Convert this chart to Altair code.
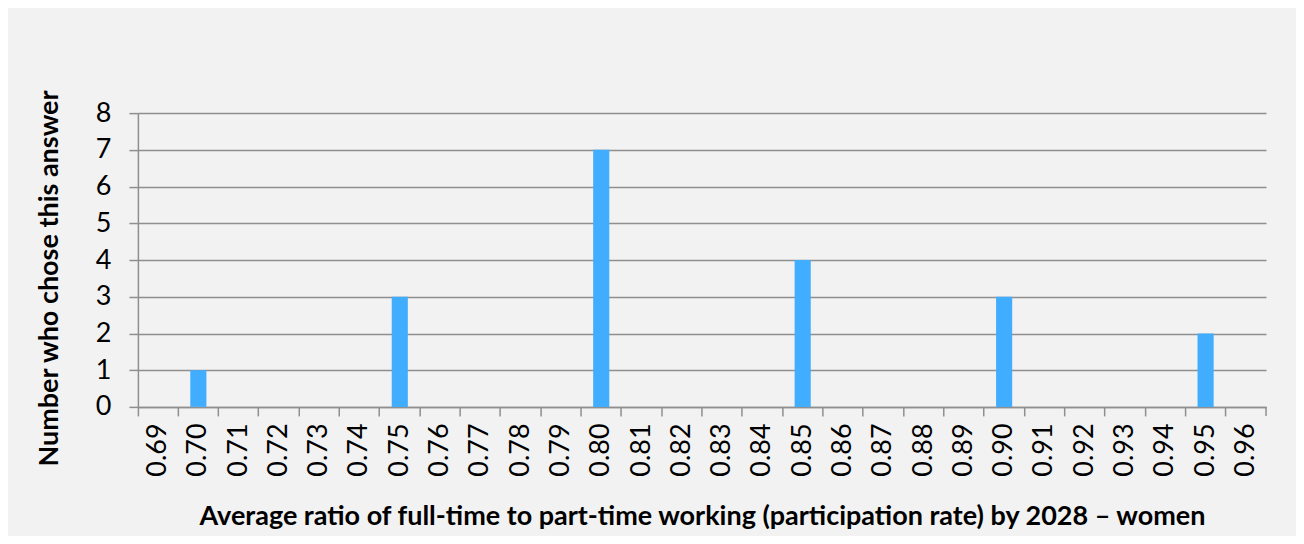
import altair as alt
import pandas as pd

categories = ["0.69", "0.70", "0.71", "0.72", "0.73", "0.74", "0.75", "0.76", "0.77",
              "0.78", "0.79", "0.80", "0.81", "0.82", "0.83", "0.84", "0.85", "0.86",
              "0.87", "0.88", "0.89", "0.90", "0.91", "0.92", "0.93", "0.94", "0.95", "0.96"]
counts = [0, 1, 0, 0, 0, 0, 3, 0, 0, 0, 0, 7, 0, 0, 0, 0, 4, 0, 0, 0, 0, 3, 0, 0, 0, 0, 2, 0]
y_ticks = [0, 1, 2, 3, 4, 5, 6, 7, 8]

x_title = "Average ratio of full-time to part-time working (participation rate) by 2028 \u2013 women"
y_title = "Number who chose this answer"

df = pd.DataFrame({"ratio": categories, "count": counts})

W, H = 1129, 294
FONT = "Lato"
GRID = "#8f8f8f"

bars = alt.Chart(df).mark_bar(color="#41adff", width=alt.RelativeBandSize(0.4)).encode(
    x=alt.X("ratio:N", sort=categories,
            scale=alt.Scale(paddingInner=0, paddingOuter=0),
            axis=alt.Axis(title=x_title, labelAngle=-90, labelAlign="right",
                          labelBaseline="middle", labelFontSize=27, labelFont=FONT,
                          labelColor="#000000", labelPadding=7,
                          bandPosition=0, ticks=True, tickSize=9, tickColor=GRID,
                          tickWidth=1.5, domainColor=GRID, domainWidth=1.5,
                          grid=False, titleFont=FONT, titleFontSize=27,
                          titleFontWeight="bold", titleColor="#000000",
                          titleX=W / 2, titleY=110, titleBaseline="middle",
                          titleAlign="center", labelOverlap=False)),
    y=alt.Y("count:Q", scale=alt.Scale(domain=[0, 8], nice=False),
            axis=alt.Axis(title=y_title, values=y_ticks, format="d",
                          labelFontSize=27, labelFont=FONT, labelColor="#000000",
                          labelPadding=18, tickSize=9, tickColor=GRID, tickWidth=1.5,
                          domainColor=GRID, domainWidth=1.5, grid=True,
                          gridColor=GRID, gridWidth=1.5, gridOpacity=1,
                          titleFont=FONT, titleFontSize=27, titleFontWeight="bold",
                          titleColor="#000000", titleAngle=-90, titleX=-88,
                          titleY=165, titleAlign="center", titleBaseline="middle")),
)

end_tick = alt.Chart(pd.DataFrame({"a": [0]})).mark_rule(
    color=GRID, strokeWidth=1.5).encode(
    x=alt.value(W), y=alt.value(H), y2=alt.value(H + 9))

chart = alt.layer(bars, end_tick).properties(
    width=W, height=H,
    background="#f2f2f2",
    padding={"left": 130, "top": 105, "right": 30, "bottom": 129},
    autosize=alt.AutoSizeParams(type="none"),
).configure_view(stroke=None)

chart.save("out.html", embed_options={"renderer": "svg", "actions": False})
